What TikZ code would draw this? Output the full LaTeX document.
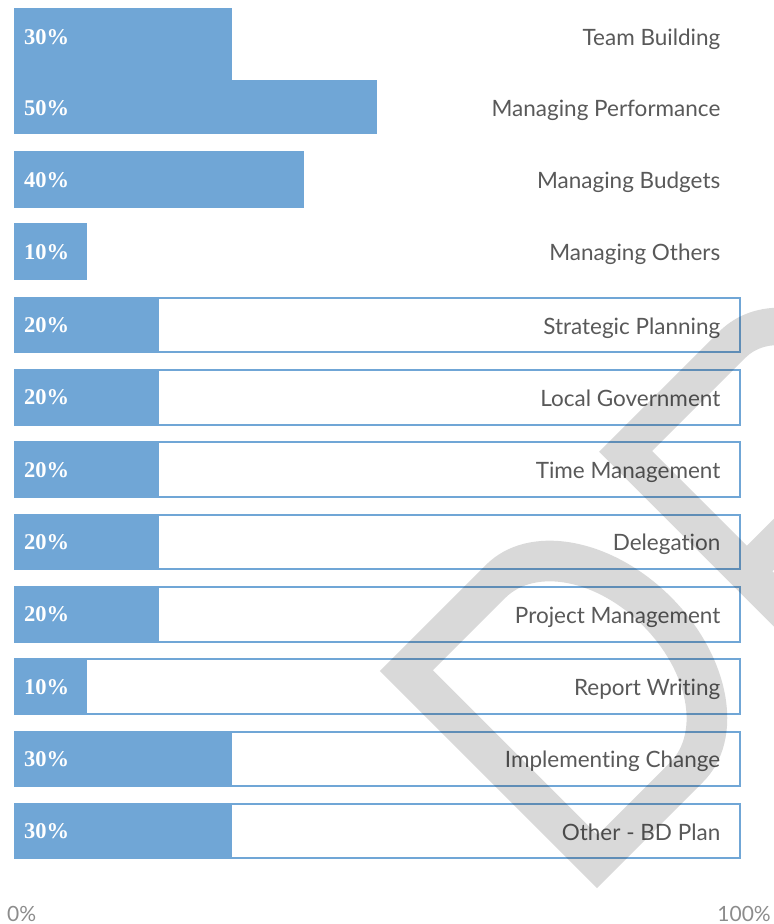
\documentclass[tikz,border=0pt]{standalone}
\usepackage{fontspec}
\setmainfont{Lato}[Ligatures={NoCommon}]
\newfontfamily\pctfont{Liberation Serif}
\definecolor{barblue}{RGB}{112,166,214}
\definecolor{labgray}{RGB}{89,89,89}
\definecolor{axgray}{RGB}{140,140,140}
\begin{document}
\begin{tikzpicture}[x=1pt,y=-1pt,
  barfill/.style={fill=barblue, draw=none},
  barframe/.style={draw=barblue, line width=2pt},
  pct/.style={anchor=base west, inner sep=0pt, text=white, font=\pctfont\bfseries\fontsize{22.5}{22.5}\selectfont},
  cat/.style={anchor=base east, inner sep=0pt, text=labgray, font=\fontsize{22.5}{22.5}\selectfont},
  axlab/.style={inner sep=0pt, text=axgray, font=\fontsize{21}{21}\selectfont},
  wmark/.style={fill=black, fill opacity=0.15, even odd rule}]
\useasboundingbox (0,0) rectangle (774,924);
% rows 1-4: plain bars
\path[barfill] (14,8) rectangle (232,80);
\path[barfill] (14,80) rectangle (377,134);
\path[barfill] (14,151) rectangle (304.4,208);
\path[barfill] (14,223) rectangle (86.6,280);
\node[pct] (p1) at (24,44) {30\%};
\node[pct] (p2) at (24,115.5) {50\%};
\node[pct] (p3) at (24,187) {40\%};
\node[pct] (p4) at (24,259) {10\%};
\node[cat] (c1) at (720.5,45) {Team Building};
\node[cat] (c2) at (720.5,116.5) {Managing Performance};
\node[cat] (c3) at (720.5,188) {Managing Budgets};
\node[cat] (c4) at (720.5,260) {Managing Others};
% rows 5-12: framed bars
\foreach \i/\v/\lab [evaluate=\i as \t using 7.5+72.3*(\i-1), evaluate=\v as \xr using 14+7.26*\v] in
  {5/20/Strategic Planning, 6/20/Local Government, 7/20/Time Management, 8/20/Delegation,
   9/20/Project Management, 10/10/Report Writing, 11/30/Implementing Change, 12/30/Other - BD Plan}{
  \draw[barframe] (15,\t+1) rectangle (740.3,\t+55.6);
  \path[barfill] (14,\t) rectangle (\xr,\t+56.6);
  \node[pct] (p\i) at (24,\t+35.8) {\v\%};
  \node[cat] (c\i) at (720.5,\t+37.3) {\lab};
}
% axis labels
\node[axlab, anchor=base west] (ax0) at (7,921) {0\%};
\node[axlab, anchor=base east] (ax100) at (771,921) {100\%};
% watermark
\begin{scope}
\clip (0,0) rectangle (774,924);
\begin{scope}[shift={(597,888)}, x=1pt, y=1pt, rotate=45]
\path[wmark] (0,0) -- (0,307) -- (150,307) arc[start angle=90, end angle=-90, x radius=108pt, y radius=153.5pt] -- cycle
  (38,37) -- (38,270) -- (140,270) arc[start angle=90, end angle=-90, x radius=78pt, y radius=116.5pt] -- cycle;
\path[wmark] (310,0) -- (310,307) -- (480,307) arc[start angle=90, end angle=-90, x radius=90pt, y radius=103.5pt]
  -- (590,0) -- (540,0) -- (430,100) -- (348,100) -- (348,0) -- cycle
  (348,136) -- (348,270) -- (480,270) arc[start angle=90, end angle=-90, x radius=52pt, y radius=67pt] -- cycle;
\end{scope}
\end{scope}
\end{tikzpicture}
\end{document}
